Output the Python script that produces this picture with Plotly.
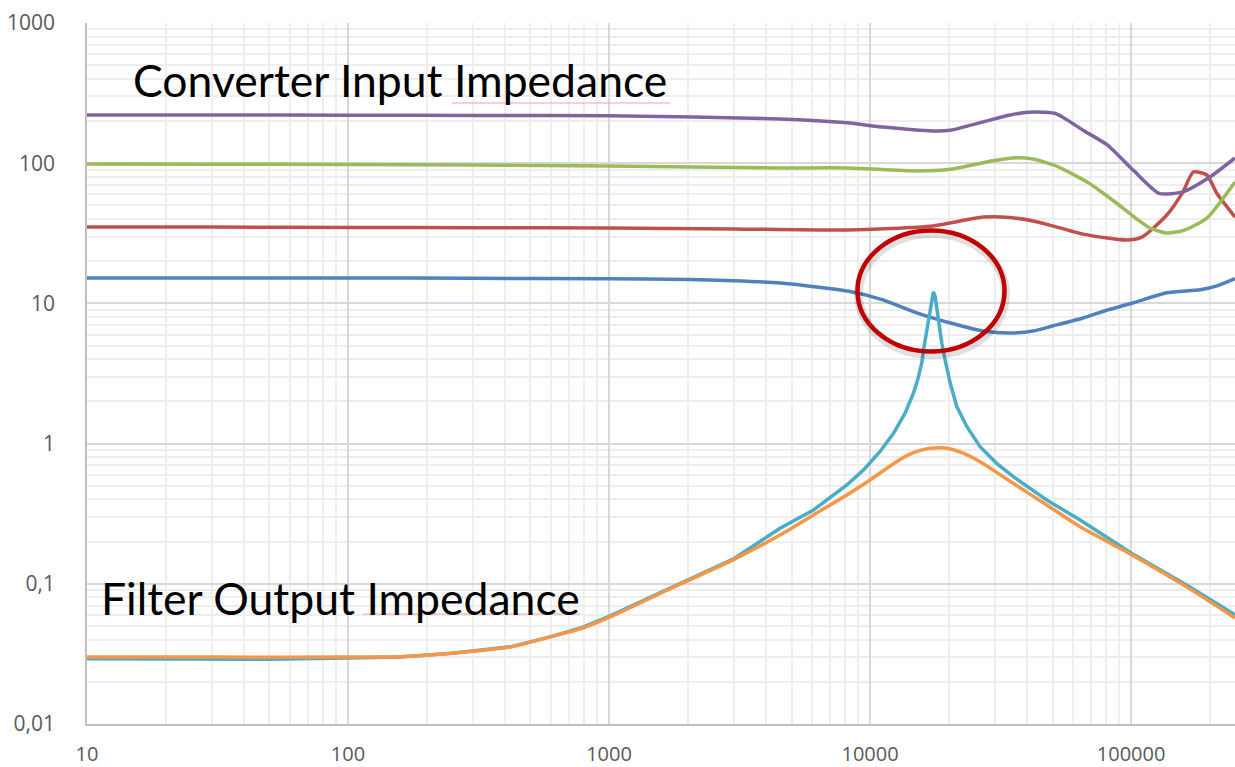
import plotly.graph_objects as go

# ---- data ----
blue_f = [10, 30, 100, 300, 1000, 2000, 3000, 4520, 6500, 8300, 11200, 15100, 20300,
          27100, 34400, 42100, 50000, 65400, 80000, 102000, 137000, 184000, 215000, 250000]
blue_v = [15.2, 15.2, 15.2, 15.1, 15.0, 14.8, 14.5, 14.0, 13.0, 12.2, 10.6, 8.55, 7.24,
          6.35, 6.15, 6.35, 6.9, 7.87, 8.9, 10.1, 11.9, 12.5, 13.4, 15.0]

red_f = [10, 30, 100, 300, 1000, 3000, 8170, 17400, 27100, 34400, 43900, 65400, 96000,
         110000, 137000, 158000, 173000, 195000, 213000, 250000]
red_v = [35.0, 35.0, 34.8, 34.7, 34.5, 34.0, 33.4, 35.7, 41.3, 41.0, 38.1, 31.2, 28.3,
         29.7, 42.7, 62.5, 86.5, 82.4, 61.0, 41.3]

green_f = [10, 30, 100, 300, 1000, 4520, 8170, 15100, 20300, 29500, 35300, 42100, 51700,
           69000, 87800, 104000, 118000, 137000, 158000, 195000, 250000]
green_v = [98.6, 98.4, 98.0, 97.0, 95.5, 92.5, 92.5, 88.0, 90.5, 104, 109, 107, 95.5,
           72, 52, 40.6, 34.5, 31.8, 33.0, 40.6, 73.5]

purple_f = [10, 30, 100, 300, 1000, 4520, 8170, 11200, 17400, 20300, 27100, 34400, 42100,
            51700, 65400, 81000, 102000, 128000, 158000, 201000, 250000]
purple_v = [221, 221, 220, 219, 218, 207, 194, 181, 170, 172, 197, 221, 232,
            225, 172, 135, 89, 61, 62.5, 80, 109]

cyan_f = [10, 30, 50, 100, 158, 250, 418, 600, 794, 1010, 1667, 2985, 4520, 6070, 8150,
          9440, 10900, 12280, 13600, 14650, 15220, 15770, 16100, 16480, 16980, 17480,
          17750, 18280, 18830, 19380, 20280, 21510, 23490, 26380, 30550, 35370, 47500,
          63800, 100000, 168000, 250000]
cyan_v = [0.0292, 0.0292, 0.0290, 0.0296, 0.0300, 0.0320, 0.0355, 0.042, 0.049, 0.059,
          0.091, 0.150, 0.249, 0.336, 0.507, 0.649, 0.875, 1.18, 1.64, 2.28, 2.85, 3.74,
          4.91, 6.46, 8.97, 12.1, 11.2, 7.62, 5.19, 3.95, 2.69, 1.83, 1.32, 0.95, 0.723,
          0.581, 0.396, 0.285, 0.166, 0.095, 0.060]

orange_f = [10, 30, 100, 158, 250, 418, 600, 794, 1010, 1667, 2985, 4520, 6070, 8150,
            10000, 12630, 14650, 16980, 19700, 22840, 26380, 35370, 47500, 63800, 100000,
            168000, 250000]
orange_v = [0.0300, 0.0300, 0.0300, 0.0302, 0.0320, 0.0354, 0.042, 0.0484, 0.058, 0.090,
            0.148, 0.223, 0.310, 0.430, 0.550, 0.743, 0.861, 0.925, 0.925, 0.851, 0.743,
            0.521, 0.365, 0.255, 0.162, 0.092, 0.057]

x_ticks = [10, 100, 1000, 10000, 100000]
x_labels = ['10', '100', '1000', '10000', '100000']
y_ticks = [0.01, 0.1, 1, 10, 100, 1000]
y_labels = ['0,01', '0,1', '1', '10', '100', '1000']

series = [
    (blue_f, blue_v, '#4F81BD', 'spline'),
    (red_f, red_v, '#C0504D', 'spline'),
    (green_f, green_v, '#9BBB59', 'spline'),
    (purple_f, purple_v, '#8064A2', 'spline'),
    (cyan_f, cyan_v, '#4BACC6', 'linear'),
    (orange_f, orange_v, '#F79646', 'spline'),
]

fig = go.Figure()
for f, v, c, shape in series:
    fig.add_trace(go.Scatter(x=f, y=v, mode='lines',
                             line=dict(color=c, width=3.5, shape=shape, smoothing=0.6),
                             showlegend=False, hoverinfo='skip'))

# plot area in pixels: left 87, right 1235, top 23, bottom 724
L, R, T, B = 87, 1235, 23, 724


def px(xp):
    return (xp - L) / (R - L)


def py(yp):
    return (B - yp) / (B - T)


fig.update_layout(
    width=1235, height=767,
    margin=dict(l=L, r=1235 - R, t=T, b=767 - B),
    paper_bgcolor='white', plot_bgcolor='white',
    xaxis=dict(type='log', range=[1, 5.398], tickvals=x_ticks, ticktext=x_labels,
               showgrid=True, gridcolor='#d9d9d9', gridwidth=1.5,
               minor=dict(dtick='D1', showgrid=True, gridcolor='#eeeeee', gridwidth=1.5),
               showline=True, linecolor='#bfbfbf', linewidth=1.5, automargin=False,
               ticks='', tickfont=dict(family='Open Sans', size=20, color='#595959'),
               ticklabelstandoff=11, zeroline=False),
    yaxis=dict(type='log', range=[-2, 3], tickvals=y_ticks, ticktext=y_labels,
               showgrid=True, gridcolor='#d9d9d9', gridwidth=1.5,
               minor=dict(dtick='D1', showgrid=True, gridcolor='#eeeeee', gridwidth=1.5),
               showline=True, linecolor='#bfbfbf', linewidth=1.5, automargin=False,
               ticks='', tickfont=dict(family='Open Sans', size=21, color='#595959'),
               ticklabelstandoff=26, zeroline=False),
)

label_font = dict(family='Lato', size=44.5, color='black')
fig.add_annotation(xref='paper', yref='paper', x=px(131), y=py(80), text='Converter Input Impedance',
                   showarrow=False, xanchor='left', yanchor='middle', font=label_font)
fig.add_annotation(xref='paper', yref='paper', x=px(99), y=py(597), text='Filter Output Impedance',
                   showarrow=False, xanchor='left', yanchor='middle', font=label_font)

# spell-check underline
fig.add_shape(type='line', xref='paper', yref='paper', x0=px(452), x1=px(670), y0=py(103), y1=py(103),
              line=dict(color='#f4a3a3', width=1))
fig.add_shape(type='line', xref='paper', yref='paper', x0=px(363), x1=px(580), y0=py(614), y1=py(614),
              line=dict(color='#f4a3a3', width=1))

# red ellipse with soft shadow
fig.add_shape(type='circle', xref='paper', yref='paper', x0=px(858.5), x1=px(1005.5),
              y0=py(354.5), y1=py(233.5), line=dict(color='rgba(0,0,0,0.12)', width=9))
fig.add_shape(type='circle', xref='paper', yref='paper', x0=px(857.5), x1=px(1004.5),
              y0=py(351.5), y1=py(230.5), line=dict(color='#C00000', width=4.5))

# drop the default 8px page margin so the figure sits at the window corner
fig.write_html('out.html', config={'displayModeBar': False},
               post_script="document.body.style.margin='0';")
